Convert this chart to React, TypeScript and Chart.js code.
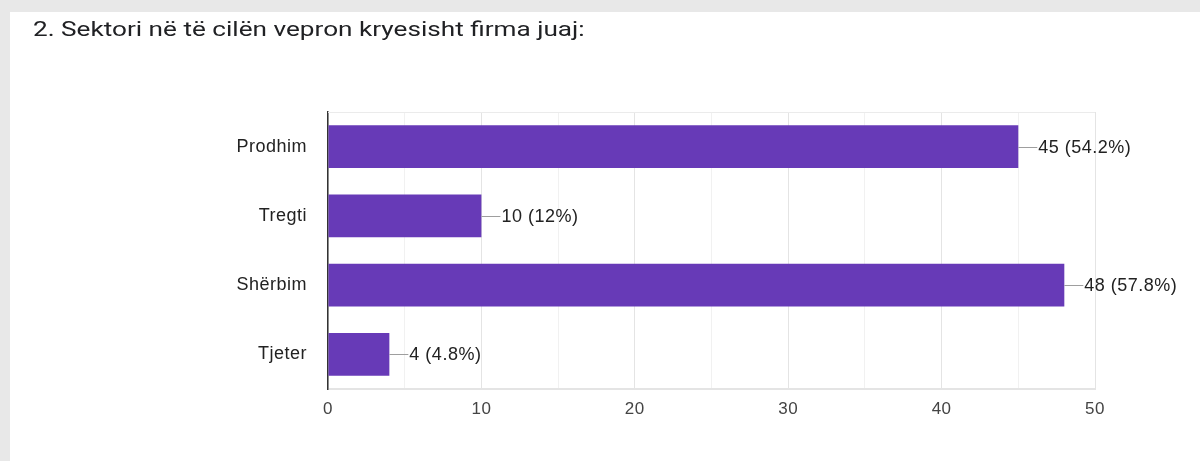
import React, { useEffect, useRef } from "react";
import { Chart, registerables } from "chart.js";

Chart.register(...registerables);

const titleText = "2. Sektori në të cilën vepron kryesisht firma juaj:";
const categories = ["Prodhim", "Tregti", "Shërbim", "Tjeter"];
const counts = [45, 10, 48, 4];
const percentLabels = ["54.2%", "12%", "57.8%", "4.8%"];
const xMax = 50;
const xStep = 5;

const FONT = "'Liberation Sans', Arial, sans-serif";

const spacingPlugin = {
  id: "spacing",
  beforeDraw(chart: any) {
    (chart.ctx as any).letterSpacing = "0.5px";
  },
};

const leaderPlugin = {
  id: "leaderLabels",
  beforeDatasetsDraw(chart: any) {
    const { ctx, chartArea } = chart;
    ctx.save();
    ctx.strokeStyle = "#ebebeb";
    ctx.lineWidth = 1;
    ctx.beginPath();
    ctx.moveTo(chartArea.left, chartArea.top + 0.5);
    ctx.lineTo(chartArea.right, chartArea.top + 0.5);
    ctx.stroke();
    ctx.restore();
  },
  afterDatasetsDraw(chart: any) {
    const { ctx } = chart;
    const meta = chart.getDatasetMeta(0);
    ctx.save();
    (ctx as any).letterSpacing = "0.5px";
    ctx.font = `18px ${FONT}`;
    ctx.textBaseline = "middle";
    ctx.textAlign = "left";
    meta.data.forEach((bar: any, i: number) => {
      const x = bar.x;
      const y = bar.y;
      ctx.strokeStyle = "#9e9e9e";
      ctx.lineWidth = 1;
      ctx.beginPath();
      ctx.moveTo(x, Math.round(y) + 0.5);
      ctx.lineTo(x + 19, Math.round(y) + 0.5);
      ctx.stroke();
      ctx.fillStyle = "#222222";
      ctx.fillText(`${counts[i]} (${percentLabels[i]})`, x + 20, y + 1);
    });
    ctx.restore();
  },
};

export default function App() {
  const canvasRef = useRef<HTMLCanvasElement | null>(null);

  useEffect(() => {
    document.body.style.margin = "0";
    const canvas = canvasRef.current;
    if (!canvas) return;
    const chart = new Chart(canvas, {
      type: "bar",
      data: {
        labels: categories,
        datasets: [
          {
            data: counts,
            backgroundColor: "#673ab7",
            borderWidth: 0,
            barPercentage: 0.62,
            categoryPercentage: 1,
          },
        ],
      },
      options: {
        indexAxis: "y",
        responsive: false,
        animation: false,
        layout: { padding: { top: 112, right: 105, left: 0, bottom: 0 } },
        plugins: {
          legend: { display: false },
          tooltip: { enabled: false },
          title: { display: false },
        },
        scales: {
          x: {
            min: 0,
            max: xMax,
            afterFit: (scale: any) => {
              scale.height = 72;
            },
            ticks: {
              stepSize: xStep,
              autoSkip: false,
              maxRotation: 0,
              padding: 10,
              color: "#444444",
              font: { family: FONT, size: 17 },
              callback: (v: any) => (Number(v) % 10 === 0 ? String(v) : ""),
            },
            grid: {
              drawTicks: false,
              color: (ctx: any) =>
                ctx.tick && ctx.tick.value % 10 === 0 ? "#e4e4e4" : "#f1f1f1",
              lineWidth: 1,
            },
            border: { display: true, color: "#e4e4e4", width: 2 },
          },
          y: {
            afterFit: (scale: any) => {
              scale.width = 328;
            },
            ticks: {
              padding: 21,
              color: "#222222",
              font: { family: FONT, size: 18 },
            },
            grid: { display: false, drawTicks: false },
            border: { display: true, color: "#333333", width: 1.5 },
          },
        },
      },
      plugins: [spacingPlugin, leaderPlugin],
    });
    return () => chart.destroy();
  }, []);

  return (
    <div
      style={{
        position: "relative",
        width: 1200,
        height: 461,
        background: "#e8e8e8",
        overflow: "hidden",
      }}
    >
      <div
        style={{
          position: "absolute",
          left: 10,
          top: 12,
          width: 1190,
          height: 449,
          background: "#ffffff",
        }}
      />
      <canvas
        ref={canvasRef}
        width={1200}
        height={461}
        style={{ position: "absolute", left: 0, top: 0 }}
      />
      <div
        style={{
          position: "absolute",
          left: 33,
          top: 16,
          fontFamily: "Roboto, 'Noto Sans', Arial, sans-serif",
          fontSize: 21,
          lineHeight: "26px",
          color: "#202124",
          whiteSpace: "nowrap",
          transform: "scaleX(1.245)",
          transformOrigin: "left center",
        }}
      >
        {titleText}
      </div>
    </div>
  );
}
